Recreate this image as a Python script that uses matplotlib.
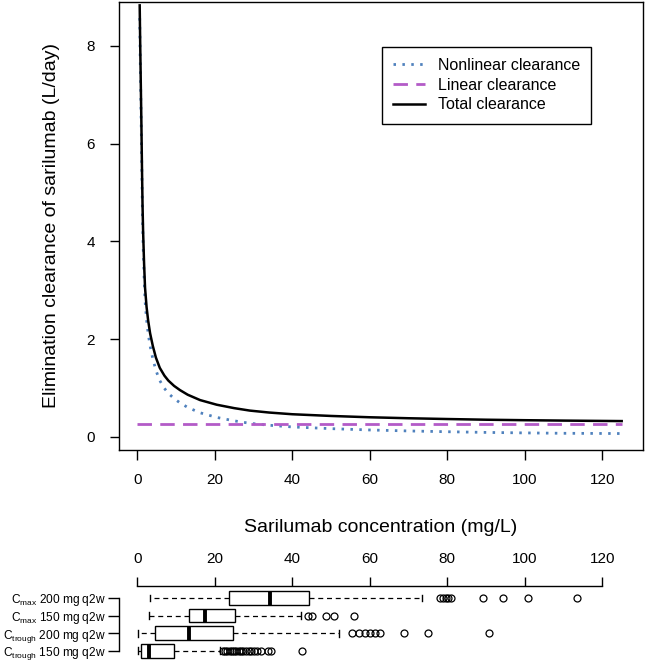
import matplotlib
matplotlib.use("Agg")
import matplotlib.pyplot as plt

plt.rcParams['font.family'] = ['Liberation Sans', 'DejaVu Sans']
plt.rcParams['mathtext.fontset'] = 'custom'
plt.rcParams['mathtext.rm'] = 'Liberation Sans'

# ---------------- data ----------------
conc = [0.62, 0.75, 0.9, 1.05, 1.2, 1.35, 1.5, 1.75, 2.0, 2.4, 2.8, 3.3, 4.0,
        4.8, 5.8, 7.0, 8.0, 9.5, 11.0, 13.0, 16.2, 20.5, 25, 29, 34, 40, 50,
        60, 70, 80, 90, 100, 110, 125]
total_cl = [8.83, 8.05, 7.25, 6.45, 5.55, 4.75, 4.20, 3.55, 3.05, 2.65, 2.38,
            2.12, 1.86, 1.62, 1.41, 1.25, 1.15, 1.04, 0.955, 0.86, 0.75, 0.655,
            0.585, 0.535, 0.495, 0.46, 0.425, 0.398, 0.378, 0.362, 0.348,
            0.338, 0.33, 0.32]
nonlinear_cl = [8.57, 7.79, 6.99, 6.19, 5.29, 4.49, 3.94, 3.29, 2.79, 2.39,
                2.12, 1.86, 1.60, 1.36, 1.15, 0.99, 0.89, 0.78, 0.695, 0.60,
                0.49, 0.395, 0.325, 0.275, 0.235, 0.20, 0.165, 0.138, 0.118,
                0.102, 0.088, 0.078, 0.07, 0.065]
conc_linear = [0, 125]
linear_cl = [0.26, 0.26]

legend_labels = ["Nonlinear clearance", "Linear clearance", "Total clearance"]

box_labels = [r"C$_{\mathregular{max}}$ 200 mg q2w",
              r"C$_{\mathregular{max}}$ 150 mg q2w",
              r"C$_{\mathregular{trough}}$ 200 mg q2w",
              r"C$_{\mathregular{trough}}$ 150 mg q2w"]
box_whislo = [3.3, 3.0, 0.1, 0.2]
box_q1 = [23.7, 13.4, 4.5, 1.0]
box_med = [34.3, 17.5, 13.4, 2.9]
box_q3 = [44.3, 25.1, 24.8, 9.6]
box_whishi = [73.4, 42.2, 52.1, 21.4]
box_fliers = [
    [78.2, 78.9, 79.6, 80.2, 80.9, 89.3, 94.4, 100.7, 113.4],
    [44.0, 45.2, 48.7, 50.8, 56.0],
    [55.4, 57.3, 58.8, 60.1, 61.4, 62.7, 68.8, 75.1, 90.8],
    [22.0, 22.6, 23.2, 23.8, 24.4, 25.0, 25.6, 26.2, 26.8, 27.4, 28.0, 28.7,
     29.3, 30.0, 31.0, 31.8, 33.8, 34.6, 42.4],
]

main_xticks = [0, 20, 40, 60, 80, 100, 120]
main_yticks = [0, 2, 4, 6, 8]

# ---------------- figure ----------------
W, H = 646, 663
fig = plt.figure(figsize=(W / 100, H / 100), dpi=100)

def rect(l, t, r, b):
    return [l / W, 1 - b / H, (r - l) / W, (b - t) / H]

XL = (-4.72, 130.5)
ax = fig.add_axes(rect(119, 1.7, 643, 450))
ax.plot(conc, nonlinear_cl, color='#4F81BD', lw=2.0, linestyle=(0, (0.9, 2.3)),
        label=legend_labels[0])
ax.plot(conc_linear, linear_cl, color='#B35BC7', lw=2.0, linestyle=(0, (5.2, 3.0)),
        label=legend_labels[1])
ax.plot(conc, total_cl, color='black', lw=1.8, label=legend_labels[2])
ax.set_xlim(*XL)
ax.set_ylim(-0.272, 8.905)
ax.set_xticks(main_xticks)
ax.set_yticks(main_yticks)
ax.tick_params(axis='x', direction='out', length=7.2, width=1, labelsize=11, pad=9.0)
ax.tick_params(axis='y', direction='out', length=6.7, width=1, labelsize=11, pad=10.5)
for s in ax.spines.values():
    s.set_linewidth(1.0)
ax.set_xlabel("Sarilumab concentration (mg/L)", fontsize=14)
ax.xaxis.set_label_coords(0.5, (450 - 527.5) / 448.3)
ax.xaxis.label.set_va('center')
ax.set_ylabel("Elimination clearance of sarilumab (L/day)", fontsize=14)
ax.yaxis.set_label_coords((52 - 119) / 524, 0.5)
ax.yaxis.label.set_va('center')

leg = ax.legend(loc='upper left', bbox_to_anchor=(381.7 / W, 1 - 46.7 / H),
                bbox_transform=fig.transFigure, fontsize=11.5, frameon=True,
                fancybox=False, edgecolor='black', framealpha=1,
                handlelength=2.0, handletextpad=0.8, labelspacing=0.3,
                borderpad=0.7, borderaxespad=0)
leg.get_frame().set_linewidth(1.0)

# ---------------- box plot panel ----------------
row_h = 17.6
top_y, bot_y = 585.5, 663
row1_y, row4_y = 598.0, 650.8
bx = fig.add_axes(rect(118.5, top_y, 643, bot_y))
bx.set_xlim((-4.72 * 3.875 - 0.5) / 3.875, XL[1])
bx.set_ylim(1 - (bot_y - row4_y) / row_h, 4 + (row1_y - top_y) / row_h)
positions = [4, 3, 2, 1]
stats = []
for i in range(4):
    stats.append(dict(med=box_med[i], q1=box_q1[i], q3=box_q3[i],
                      whislo=box_whislo[i], whishi=box_whishi[i],
                      fliers=box_fliers[i], label=box_labels[i]))
bx.bxp(stats, positions=positions, orientation='horizontal', widths=0.78,
       capwidths=0.38, patch_artist=True,
       boxprops=dict(facecolor='white', edgecolor='black', linewidth=1.0),
       medianprops=dict(color='black', linewidth=2.8, solid_capstyle='butt'),
       whiskerprops=dict(color='black', linewidth=0.9, linestyle=(0, (4, 3))),
       capprops=dict(color='black', linewidth=1.0),
       flierprops=dict(marker='o', markerfacecolor='none', markeredgecolor='black',
                       markersize=5.0, markeredgewidth=0.9))
bx.set_yticks(positions)
bx.set_yticklabels(box_labels, fontsize=8.6)
for t in bx.get_yticklabels():
    t.set_va('center_baseline')
bx.set_xticks(main_xticks)
bx.xaxis.tick_top()
bx.tick_params(axis='x', direction='out', length=6.3, width=1, labelsize=11, pad=8.0)
bx.tick_params(axis='y', direction='out', length=8.0, width=1, pad=1.0)
bx.spines['bottom'].set_visible(False)
bx.spines['right'].set_visible(False)
bx.spines['top'].set_bounds(0, 120)
bx.spines['left'].set_bounds(1, 4)
bx.spines['top'].set_linewidth(1.0)
bx.spines['left'].set_linewidth(1.0)
bx.patch.set_visible(False)

fig.savefig("out.png", dpi=100)
